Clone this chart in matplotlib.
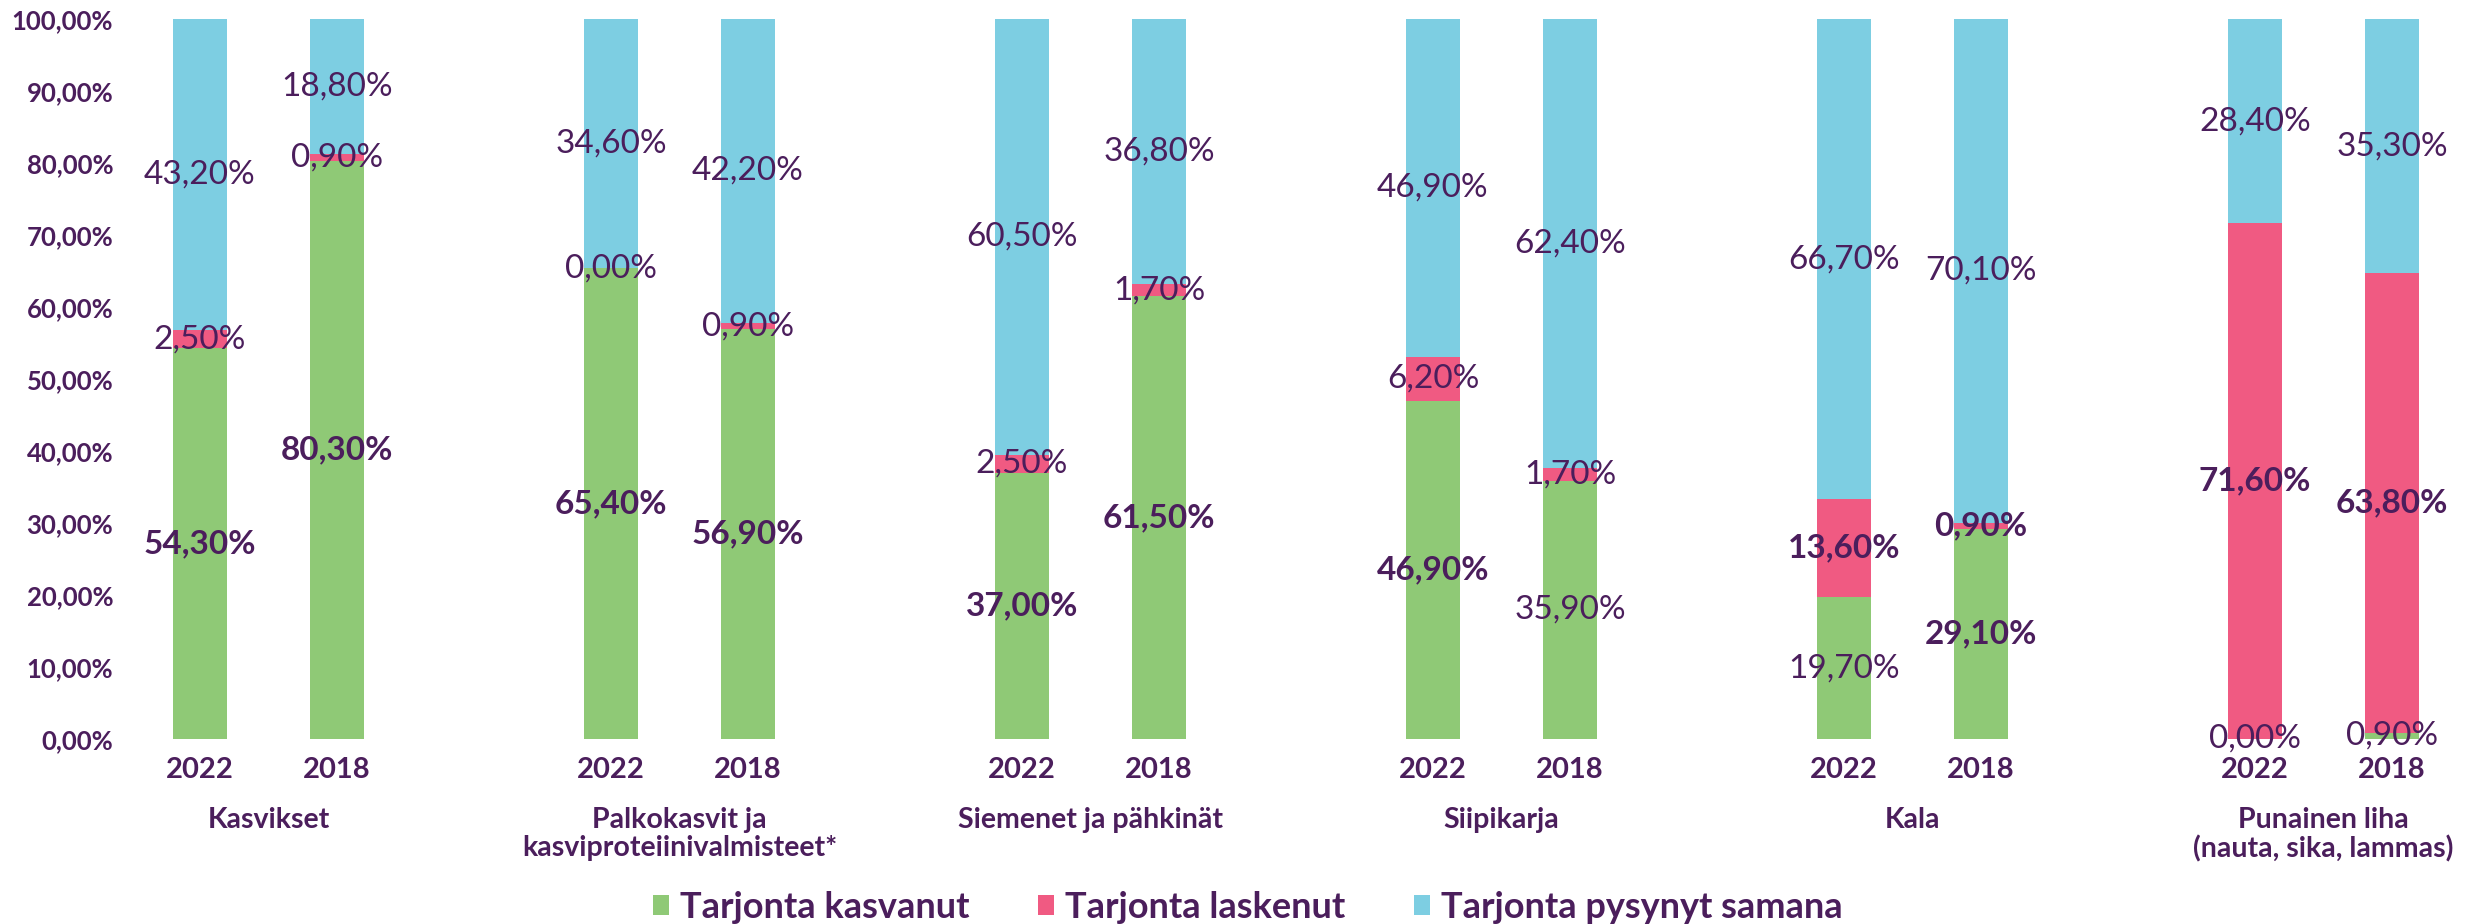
import numpy as np
from matplotlib import pyplot as plt
from matplotlib.patches import Patch

# Tiedot
kategoriat = ['Kasvikset', 'Palkokasvit ja\nkasviproteiinivalmisteet*', 'Siemenet ja pähkinät',
              'Siipikarja', 'Kala', 'Punainen liha\n(nauta, sika, lammas)']
vuodet = ['2022', '2018']

kasvanut_2022 = [54.3, 65.4, 37.0, 46.9, 19.7, 0.0]
laskenut_2022 = [2.5, 0.0, 2.5, 6.2, 13.6, 71.6]
pysynyt_2022 = [43.2, 34.6, 60.5, 46.9, 66.7, 28.4]

kasvanut_2018 = [80.3, 56.9, 61.5, 35.9, 29.1, 0.9]
laskenut_2018 = [0.9, 0.9, 1.7, 1.7, 0.9, 63.8]
pysynyt_2018 = [18.8, 42.2, 36.8, 62.4, 70.1, 35.3]

# lihavoidut arvot (kasvanut, laskenut, pysynyt)
lihava_2022 = [(1, 0, 0), (1, 0, 0), (1, 0, 0), (1, 0, 0), (0, 1, 0), (0, 1, 0)]
lihava_2018 = [(1, 0, 0), (1, 0, 0), (1, 0, 0), (0, 0, 0), (1, 1, 0), (0, 1, 0)]

sarjat = ['Tarjonta kasvanut', 'Tarjonta laskenut', 'Tarjonta pysynyt samana']
varit = ['#8FC976', '#F05A82', '#7DCEE2']
teksti = '#4B1E5C'

plt.rcParams['font.family'] = ['Lato', 'DejaVu Sans']

figura = plt.figure(dpi=100, figsize=(24.81, 9.24))
ax = figura.add_axes([130 / 2481, 1 - 739 / 924, 2340 / 2481, 720 / 924])

x = np.arange(len(kategoriat)) * 3
leveys = 0.4

def piirra(xpos, kasv, lask, pys, lihava):
    pohja = np.zeros(len(xpos))
    for arvot, vari, indeksi in zip([kasv, lask, pys], varit, range(3)):
        arvot = np.array(arvot)
        ax.bar(xpos, arvot, leveys, bottom=pohja, color=vari, linewidth=0)
        for xi, b, v, lh in zip(xpos, pohja, arvot, lihava):
            ax.text(xi, b + v / 2, f"{v:.2f}".replace('.', ',') + '%', ha='center', va='center',
                    fontsize=24, color=teksti, fontweight='bold' if lh[indeksi] else 'normal')
        pohja = pohja + arvot

piirra(x, kasvanut_2022, laskenut_2022, pysynyt_2022, lihava_2022)
piirra(x + 1, kasvanut_2018, laskenut_2018, pysynyt_2018, lihava_2018)

# Akselit
ax.set_ylim(0, 100)
ax.set_xlim(-0.511, 16.57)
ax.set_yticks(np.arange(0, 101, 10))
ax.set_yticklabels([f"{v},00%" for v in range(0, 101, 10)], fontsize=18.5, fontweight='bold', color=teksti)
xt = np.sort(np.concatenate([x, x + 1]))
ax.set_xticks(xt)
ax.set_xticklabels(vuodet * len(kategoriat), fontsize=21, fontweight='bold', color=teksti)
ax.tick_params(axis='both', length=0)
ax.tick_params(axis='y', pad=12)
ax.tick_params(axis='x', pad=13)
for s in ax.spines.values():
    s.set_visible(False)

for xi, nimi in zip(x, kategoriat):
    ax.text(xi + 0.5, -0.094, nimi, transform=ax.get_xaxis_transform(), ha='center', va='top',
            fontsize=20.5, fontweight='bold', color=teksti, linespacing=1.1)

# Selite
kahvat = [Patch(facecolor=v, edgecolor='none') for v in varit]
figura.legend(kahvat, sarjat, loc='center', bbox_to_anchor=(0.503, 0.018), ncol=3, frameon=False,
              prop={'size': 26, 'weight': 'bold'}, labelcolor=teksti, handlelength=0.45,
              handleheight=0.45, handletextpad=0.3, columnspacing=1.9)

plt.savefig('out.png', dpi=100)
